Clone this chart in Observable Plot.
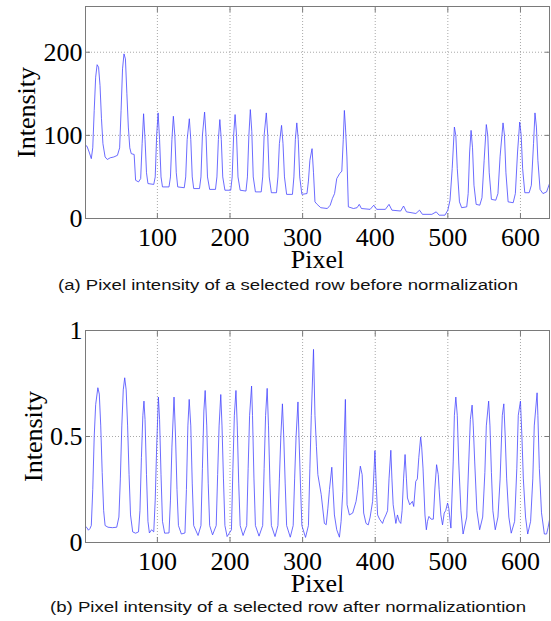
<!DOCTYPE html>
<html><head><meta charset="utf-8">
<script src="https://cdn.jsdelivr.net/npm/d3@7"></script>
<script src="https://cdn.jsdelivr.net/npm/@observablehq/plot@0.6"></script>
<style>
body{margin:0;background:#fff;width:551px;height:621px;position:relative;overflow:hidden}
.panel{position:absolute;left:0}
.cap{position:absolute;left:288px;font-family:"Liberation Sans",Arial,sans-serif;font-size:15.5px;color:#111;white-space:nowrap;transform-origin:0 0}
</style></head><body>
<div id="p1" class="panel" style="top:0px"></div>
<div class="cap" id="c1" style="top:276px"></div>
<div id="p2" class="panel" style="top:324px"></div>
<div class="cap" id="c2" style="top:598px"></div>
<script>
// ---- data ----
const xTicks = [100, 200, 300, 400, 500, 600];
const xTickLabels = ["100", "200", "300", "400", "500", "600"];
const xDomain = [1, 640];

const yTicksA = [0, 100, 200];
const yTickLabelsA = ["0", "100", "200"];
const yDomainA = [0, 255];

const yTicksB = [0, 0.5, 1];
const yTickLabelsB = ["0", "0.5", "1"];
const yDomainB = [0, 1];

const captionA = "(a) Pixel intensity of a selected row before normalization";
const captionB = "(b) Pixel intensity of a selected row after normalizationtion";
const xLabel = "Pixel";
const yLabel = "Intensity";

const pixelA = [1,3,6,9,11,13,15,17,19,21,23,25,28,31,35,40,45,48,50,52,54,56,58,60,62,64,68,70,74,77,79,81,83,85,87,95,97,99,101,103,105,107,116,118,120,122,124,126,128,137,139,141,144,146,148,150,158,160,162,165,167,169,172,180,182,184,186,188,190,193,201,203,205,207,209,211,214,222,224,226,228,230,232,235,243,245,247,250,252,254,257,264,266,268,271,273,275,278,286,288,290,292,294,296,299,306,308,310,313,315,317,320,325,334,338,341,344,347,351,354,356,357.5,359,361,363,370,375,378,381,393,398,402,414,419,423,435,439,443,456,461,465,478,484,488,496,500,503,506,509,511,513,516,519,526,528,530,532,534,536,539,544,547,550,553,555,557,560,566,569,572,576,578,580,583,590,593,596,599,601,603,606,612,615,618,620,622,624,627,631,636,640];
const intensityA = [88,87,80,72,85,130,170,185,182,160,120,90,74,71,73,74,76,85,130,180,198,192,150,110,85,78,77,46,44,48,90,126,95,55,42,41,50,100,127,95,50,38,38,50,95,123,100,55,38,37,50,95,120,95,50,36,36,50,100,128,100,50,35,35,50,95,119,95,50,34,34,50,100,125,100,50,34,33,50,100,131,105,50,32,32,50,100,127,100,50,31,31,50,90,112,90,50,29,29,50,95,115,95,50,29,30,45,70,84,55,20,17,13,12,16,24,30,48,54,57,95,130,110,74,14,12,13,17,12,11,16,11,11,17,10,9,15,8,6,10,5,5,8,4,4,10,22,60,110,100,60,20,13,14,30,80,106,85,40,17,16,25,70,113,100,55,23,22,30,75,115,100,55,20,19,30,80,116,100,60,31,31,40,90,127,110,70,35,30,32,42];

const pixelB = [1,3,5,7,9,11,13,15,18,20,22,24,26,28,32,38,44,47,49,51,53,55,57,59,61,63,66,70,74,76,78,80,81.5,83,85,87,89,92,95,97,99,101.4,103,105,107,110,116,118,120,122.9,125,127,129,133,138,140,142,143.8,146,148,150,156,160,162,164,165.8,168,170,172,176,181,183,185,187.3,189,191,193,196,202,204,206,208.2,210,212,214,218,223,225,227,229.7,231,233,235,240,245,247,249,251.2,253,255,257,262,266,268,270,272.2,274,276,278,283,287,289,291,293.6,295,297,299,304,308,310,312,315,317,319,321,325.6,330,332.5,334.8,337,340.2,343.8,347,350.7,353,355.3,357,358.9,361.2,364.4,369,373.6,376,379.5,382,384.1,387.3,390.4,393,396.4,399.6,401,403.3,406,410.1,412,414.7,417,419,421.5,423,424.7,428.4,430.6,433,435.2,437,439,441.1,443,444.4,447.5,451.2,453,455.8,458,460,462.6,464,465.8,468.5,470.4,472,474,477,480,482.2,484.5,486.8,488,490.4,492.7,495,497,499.6,501.4,504.2,507.4,509,511,513,515,518,521,526,528.8,531,533.4,535,537,540,543.8,548,551,553,556.2,558,560,562,565.3,569,572,575,577.1,579,581,584,587.3,592,595,597,600,602,604,607,610,614,617,619,622.9,624,626,629,632.9,636,638,640];
const intensityB = [0.076,0.07,0.058,0.065,0.08,0.25,0.5,0.65,0.73,0.7,0.55,0.33,0.15,0.08,0.072,0.07,0.072,0.12,0.3,0.55,0.72,0.777,0.72,0.55,0.32,0.13,0.05,0.044,0.05,0.15,0.4,0.6,0.667,0.58,0.32,0.1,0.045,0.06,0.05,0.2,0.45,0.686,0.58,0.32,0.1,0.044,0.045,0.2,0.45,0.686,0.5,0.25,0.08,0.04,0.045,0.25,0.55,0.675,0.55,0.28,0.08,0.033,0.08,0.35,0.62,0.717,0.55,0.28,0.08,0.036,0.08,0.32,0.55,0.698,0.55,0.3,0.08,0.028,0.06,0.35,0.6,0.717,0.55,0.28,0.08,0.033,0.08,0.35,0.6,0.738,0.6,0.3,0.08,0.03,0.08,0.35,0.6,0.727,0.55,0.28,0.08,0.028,0.08,0.3,0.5,0.654,0.5,0.28,0.08,0.025,0.08,0.3,0.5,0.663,0.5,0.28,0.08,0.024,0.08,0.35,0.6,0.911,0.6,0.454,0.32,0.227,0.09,0.084,0.162,0.25,0.355,0.13,0.06,0.025,0.1,0.24,0.45,0.675,0.178,0.13,0.139,0.194,0.25,0.36,0.32,0.139,0.09,0.083,0.12,0.194,0.433,0.3,0.13,0.11,0.09,0.11,0.13,0.15,0.3,0.435,0.3,0.178,0.09,0.13,0.1,0.09,0.15,0.3,0.415,0.3,0.21,0.178,0.194,0.17,0.288,0.3,0.4,0.498,0.45,0.351,0.13,0.06,0.1,0.123,0.11,0.11,0.257,0.367,0.32,0.25,0.13,0.083,0.139,0.15,0.186,0.16,0.068,0.38,0.6,0.686,0.6,0.38,0.15,0.04,0.12,0.38,0.58,0.648,0.55,0.38,0.15,0.06,0.12,0.33,0.55,0.667,0.55,0.33,0.15,0.06,0.12,0.3,0.6,0.654,0.5,0.3,0.12,0.044,0.1,0.35,0.6,0.667,0.5,0.3,0.12,0.04,0.1,0.3,0.55,0.706,0.6,0.35,0.14,0.04,0.04,0.07,0.107];

// ---- chart ----
const serif = '"Liberation Serif", "Times New Roman", Times, serif';
const frameColor = "#7a7a7a";
const gridStyle = {stroke: "#a8a8a8", strokeOpacity: 1, strokeWidth: 1, strokeDasharray: "1,2"};

function makePlot(px, vals, yDomain, yTicks, yTickLabels, yLabelOffset) {
  const data = px.map((x, i) => ({x, y: vals[i]}));
  return Plot.plot({
    width: 551, height: 270,
    marginTop: 6, marginBottom: 52, marginLeft: 85, marginRight: 2,
    style: {fontFamily: serif, fontSize: "26px", background: "white", color: "#000", overflow: "visible"},
    x: {domain: xDomain},
    y: {domain: yDomain},
    marks: [
      Plot.gridX(xTicks, gridStyle),
      Plot.gridY(yTicks, gridStyle),
      Plot.line(data, {x: "x", y: "y", stroke: "#4646ff", strokeWidth: 0.8}),
      Plot.frame({stroke: frameColor, strokeWidth: 1}),
      Plot.axisX(xTicks, {anchor: "bottom", tickSize: -5, fill: "none", label: null, stroke: frameColor}),
      Plot.axisX(xTicks, {anchor: "top", tickSize: -5, fill: "none", label: null, stroke: frameColor}),
      Plot.axisY(yTicks, {anchor: "left", tickSize: -5, fill: "none", label: null, stroke: frameColor}),
      Plot.axisY(yTicks, {anchor: "right", tickSize: -5, fill: "none", label: null, stroke: frameColor}),
      Plot.axisX(xTicks, {anchor: "bottom", tickSize: 0, tickPadding: 9, fontSize: 26, fontFamily: serif, fontVariant: "normal", fill: "#000",
        tickFormat: d => xTickLabels[xTicks.indexOf(d)],
        label: xLabel, labelAnchor: "center", labelArrow: "none", labelOffset: 49}),
      Plot.axisY(yTicks, {anchor: "left", tickSize: 0, tickPadding: 3, fontSize: 26, fontFamily: serif, fontVariant: "normal", fill: "#000",
        tickFormat: d => yTickLabels[yTicks.indexOf(d)],
        label: yLabel, labelAnchor: "center", labelArrow: "none", labelOffset: yLabelOffset})
    ]
  });
}

document.getElementById("p1").append(makePlot(pixelA, intensityA, yDomainA, yTicksA, yTickLabelsA, 69));
document.getElementById("p2").append(makePlot(pixelB, intensityB, yDomainB, yTicksB, yTickLabelsB, 62));

function setCaption(id, text, targetWidth) {
  const el = document.getElementById(id);
  el.textContent = text;
  const w = el.getBoundingClientRect().width;
  const s = targetWidth / w;
  el.style.transform = `scaleX(${s}) translateX(-50%)`;
}
setCaption("c1", captionA, 460);
setCaption("c2", captionB, 476);
</script>
</body></html>
